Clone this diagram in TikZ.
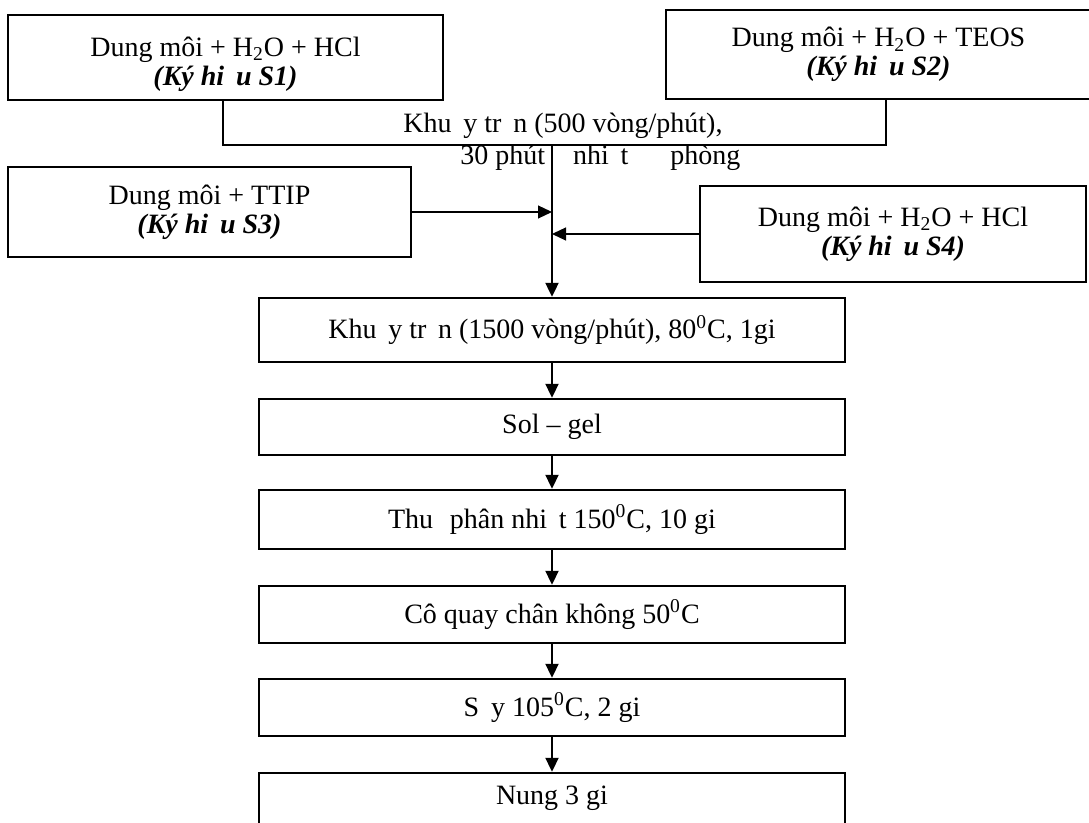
\documentclass[tikz,border=0pt]{standalone}
\usepackage{fontspec}
\setmainfont{Liberation Serif}
\usetikzlibrary{arrows.meta,calc,positioning}
\newcommand{\gap}{\hspace{0.42em}}
\tikzset{
  flow/.style={-{Triangle[length=7pt,width=6.5pt]}, line width=1pt},
  feed/.style={-{Triangle[length=7pt,width=6.5pt]}, line width=0.6pt},
  merge line/.style={line width=0.7pt},
  input box/.style={draw, line width=1.2pt, align=center, inner sep=0pt,
    font=\fontsize{14}{14.5}\selectfont},
  stage box/.style={draw, line width=1.2pt, align=center, inner sep=0pt,
    minimum width=293pt, font=\fontsize{14}{14.5}\selectfont},
  plain label/.style={inner sep=0pt, font=\fontsize{14}{14.5}\selectfont}
}

\begin{document}
\begin{tikzpicture}[x=0.5pt, y=-0.5pt]
  \useasboundingbox (0,0) rectangle (1089,823);
  % inputs
  \node[input box, minimum width=217.5pt, minimum height=42.5pt] (s1) at (225.5,57.5)
    {\rule{0pt}{16.5pt}Dung môi + H\textsubscript{2}O + HCl\\\textbf{\textit{(Ký hi\gap u S1)}}};
  \node[input box, minimum width=212.5pt, minimum height=44.5pt] (s2) at (878.5,54.5)
    {Dung môi + H\textsubscript{2}O + TEOS\\\textbf{\textit{(Ký hi\gap u S2)}}};
  \node[input box, minimum width=201.5pt, minimum height=45pt] (s3) at (209.5,212)
    {Dung môi + TTIP\\\textbf{\textit{(Ký hi\gap u S3)}}};
  \node[input box, minimum width=193pt, minimum height=48pt] (s4) at (893,234)
    {Dung môi + H\textsubscript{2}O + HCl\\\textbf{\textit{(Ký hi\gap u S4)}}};
  % process steps
  \node[stage box, minimum height=32pt] (k) at (552,330)
    {Khu\gap y tr\gap n (1500 vòng/phút), 80\textsuperscript{0}C, 1gi};
  \node[stage box, minimum height=28pt] (sol) at (552,427) {Sol -- gel};
  \node[stage box, minimum height=29.5pt] (thu) at (552,519.5)
    {Thu\hspace{0.6em}phân nhi\gap t 150\textsuperscript{0}C, 10 gi};
  \node[stage box, minimum height=28.5pt] (co) at (552,614.5)
    {Cô quay chân không 50\textsuperscript{0}C};
  \node[stage box, minimum height=28.5pt] (say) at (552,707.5)
    {S\gap y 105\textsuperscript{0}C, 2 gi};
  \node[stage box, minimum height=25.5pt] (nung) at (552,798.5) {Nung 3 gi};
  % mixing of S1 and S2
  \coordinate (m1) at (223,145);
  \coordinate (m2) at (886,145);
  \coordinate (mj) at (552,145);
  \draw[merge line] (s1.south -| m1) |- (m2) -- (s2.south -| m2);
  \node[plain label, anchor=base] (mix1) at (563,133)
    {Khu\gap y tr\gap n (500 vòng/phút),};
  \node[plain label, anchor=base west] (mix2) at (460,165)
    {30 phút\hspace{1em}nhi\gap t\hspace{1.5em}phòng};
  \draw[flow, line width=1.1pt] (mj) -- (k.north);
  \draw[feed] (s3.east) -- (s3.east -| mj);
  \draw[feed] (s4.west) -- (s4.west -| mj);
  % chain
  \draw[flow] (k) -- (sol); \draw[flow] (sol) -- (thu);
  \draw[flow] (thu) -- (co); \draw[flow] (co) -- (say);
  \draw[flow] (say) -- (nung);
\end{tikzpicture}
\end{document}
